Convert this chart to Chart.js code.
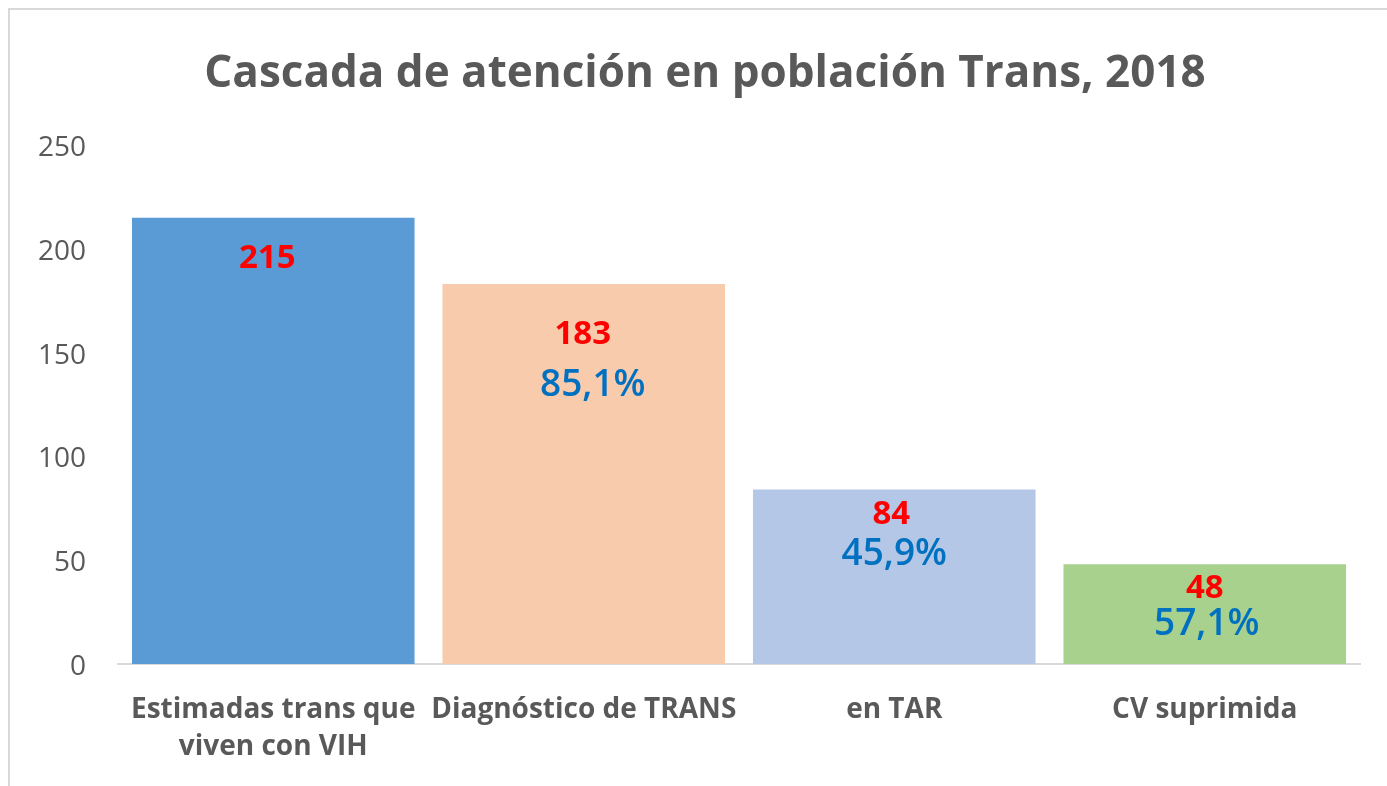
<!DOCTYPE html>
<html>
<head>
<meta charset="utf-8">
<script src="https://cdn.jsdelivr.net/npm/chart.js@4"></script>
<style>
  html, body { margin: 0; padding: 0; background: #fff; }
  #wrap { position: relative; width: 1387px; height: 786px; }
  #frame {
    position: absolute; left: 8px; top: 8px; width: 1400px; height: 800px;
    border-left: 2px solid #d9d9d9; border-top: 2px solid #d9d9d9;
    pointer-events: none;
  }
</style>
</head>
<body>
<div id="wrap">
  <canvas id="chart" width="1387" height="786"></canvas>
  <div id="frame"></div>
</div>
<script>
const chartTitle = 'Cascada de atención en población Trans, 2018';
const categories = [
    ['Estimadas trans que', 'viven con VIH'],
    'Diagnóstico de TRANS',
    'en TAR',
    'CV suprimida'
];
const counts = [215, 183, 84, 48];
const percents = ['', '85,1%', '45,9%', '57,1%'];
const yTicks = [0, 50, 100, 150, 200, 250];

const barColors = ['#5B9BD5', '#F8CBAD', '#B4C7E7', '#A9D18E'];
const font = '"Open Sans", sans-serif';

// title sits a bit right of the canvas centre, like the original
const titlePlugin = {
    id: 'titleText',
    afterDraw(chart, args, opts) {
        const ctx = chart.ctx;
        ctx.save();
        ctx.font = 'bold 44px ' + font;
        ctx.fillStyle = '#595959';
        ctx.textAlign = 'center';
        ctx.textBaseline = 'middle';
        ctx.fillText(chartTitle, opts.x, opts.y);
        ctx.restore();
    }
};

// draws the red count and blue percentage inside each bar
const barLabels = {
    id: 'barLabels',
    afterDatasetsDraw(chart, args, opts) {
        const ctx = chart.ctx;
        const meta = chart.getDatasetMeta(0);
        ctx.save();
        ctx.textAlign = 'center';
        ctx.textBaseline = 'middle';
        meta.data.forEach(function(bar, i) {
            ctx.font = 'bold 33px ' + font;
            ctx.fillStyle = '#FF0000';
            ctx.fillText(String(counts[i]), bar.x + opts.countDx[i], bar.y + opts.countDy[i]);
            if (percents[i]) {
                ctx.font = '600 37px ' + font;
                ctx.fillStyle = '#0070C0';
                ctx.fillText(percents[i], bar.x + opts.pctDx[i], bar.y + opts.pctDy[i]);
            }
        });
        ctx.restore();
    }
};

const ctx = document.getElementById('chart').getContext('2d');
new Chart(ctx, {
    type: 'bar',
    data: {
        labels: categories,
        datasets: [{
            data: counts,
            backgroundColor: barColors,
            borderWidth: 0,
            categoryPercentage: 1,
            barPercentage: 0.91
        }]
    },
    plugins: [barLabels, titlePlugin],
    options: {
        responsive: false,
        animation: false,
        layout: { padding: { left: 0, right: 27, top: 145, bottom: 0 } },
        plugins: {
            legend: { display: false },
            tooltip: { enabled: false },
            titleText: { x: 705, y: 74 },
            barLabels: {
                countDx: [-6, -1, -3, 0],
                countDy: [41, 51, 25, 24],
                pctDx: [0, 9, 0, 2],
                pctDy: [0, 101, 65, 60]
            }
        },
        scales: {
            x: {
                grid: { display: false, drawTicks: false },
                border: { display: true, color: '#d9d9d9', width: 2 },
                ticks: {
                    color: '#595959',
                    font: { family: font, size: 28, weight: 'bold', lineHeight: 1.32 },
                    padding: 28,
                    maxRotation: 0,
                    autoSkip: false
                },
                afterFit: function(scale) { scale.height = 122; }
            },
            y: {
                min: 0,
                max: 250,
                afterBuildTicks: function(scale) {
                    scale.ticks = yTicks.map(function(v) { return { value: v }; });
                },
                grid: { display: false, drawTicks: false },
                border: { display: false },
                ticks: {
                    color: '#595959',
                    font: { family: font, size: 28 },
                    padding: 32,
                    labelOffset: 3
                },
                afterFit: function(scale) { scale.width = 118; }
            }
        }
    }
});
</script>
</body>
</html>
